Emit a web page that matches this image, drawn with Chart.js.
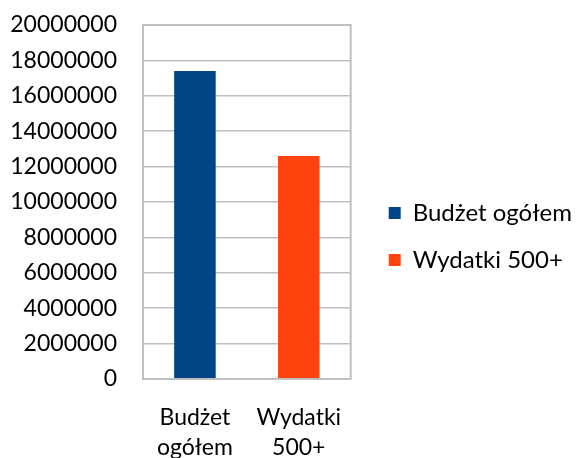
<!DOCTYPE html>
<html>
<head>
<meta charset="utf-8">
<script src="https://cdn.jsdelivr.net/npm/chart.js@4"></script>
<style>
  html, body { margin: 0; padding: 0; background: #fff; }
  #wrap { width: 582px; height: 458px; }
</style>
</head>
<body>
<div id="wrap"><canvas id="chart"></canvas></div>
<script>
var categories = [['Budżet', 'ogółem'], ['Wydatki', '500+']];
var seriesNames = ['Budżet ogółem', 'Wydatki 500+'];
var budzet = [17400000, null];
var wydatki = [null, 12600000];
var yTicks = [0, 2000000, 4000000, 6000000, 8000000, 10000000, 12000000, 14000000, 16000000, 18000000, 20000000];

Chart.defaults.font.family = 'Lato, Carlito, sans-serif';
Chart.defaults.font.size = 23;
Chart.defaults.color = '#000';

// outline of the plot area (top/right edges)
var boxOutline = {
  id: 'boxOutline',
  afterDraw: function(chart) {
    var a = chart.chartArea, ctx = chart.ctx;
    ctx.save();
    ctx.strokeStyle = '#bfbfbf';
    ctx.lineWidth = 2;
    ctx.strokeRect(a.left, a.top, a.right - a.left, a.bottom - a.top);
    ctx.restore();
  }
};

var ctx = document.getElementById('chart').getContext('2d');
var chart = new Chart(ctx, {
  type: 'bar',
  data: {
    labels: categories,
    datasets: [{
      label: seriesNames[0],
      backgroundColor: '#004586',
      data: budzet,
      skipNull: true
    }, {
      label: seriesNames[1],
      backgroundColor: '#ff420e',
      data: wydatki,
      skipNull: true
    }]
  },
  options: {
    responsive: true,
    maintainAspectRatio: false,
    animation: false,
    layout: { padding: { left: 0, top: 15, right: 0, bottom: 0 } },
    datasets: { bar: { barPercentage: 0.4, categoryPercentage: 1, grouped: false } },
    scales: {
      x: {
        grid: { display: false },
        border: { color: '#bfbfbf', width: 2 },
        ticks: { padding: 16, font: { size: 23, lineHeight: 1.3 } },
        afterFit: function(axis) { axis.height = 79; }
      },
      y: {
        min: 0,
        max: 20000000,
        afterBuildTicks: function(axis) {
          axis.ticks = yTicks.map(function(v) { return { value: v }; });
        },
        grid: { color: '#bfbfbf', lineWidth: 1.5, drawTicks: false },
        border: { color: '#bfbfbf', width: 2 },
        ticks: { padding: 26, callback: function(v) { return String(v); } },
        afterFit: function(axis) {
          axis.width = 143;
          axis.paddingTop = 25;
          axis.paddingBottom = 0;
        }
      },
      // empty spacer between plot and legend
      gap: {
        type: 'linear',
        axis: 'y',
        position: 'right',
        grid: { display: false },
        border: { display: false },
        ticks: { display: false },
        afterFit: function(axis) { axis.width = 15; axis.paddingTop = 0; axis.paddingBottom = 0; }
      }
    },
    plugins: {
      legend: {
        position: 'right',
        maxWidth: 260,
        labels: { boxWidth: 12, boxHeight: 12, padding: 23, font: { size: 24 } }
      },
      tooltip: { enabled: false }
    }
  },
  plugins: [boxOutline]
});
</script>
</body>
</html>
